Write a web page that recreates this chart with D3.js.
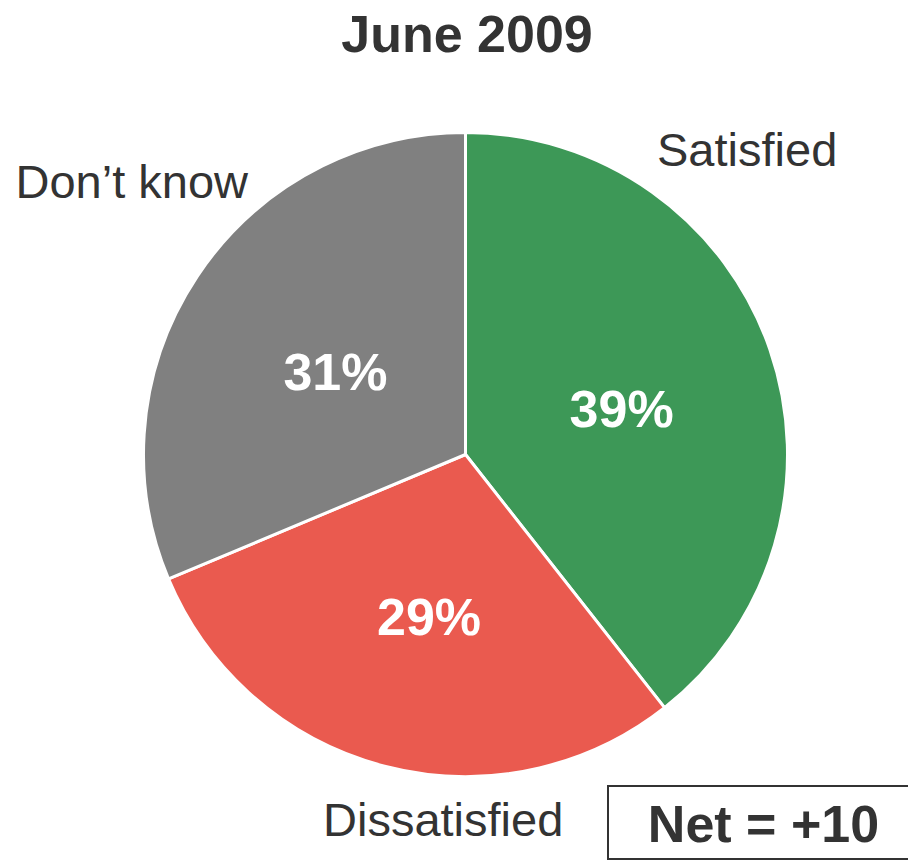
<!DOCTYPE html>
<html>
<head>
<meta charset="utf-8">
<script src="https://cdn.jsdelivr.net/npm/d3@7"></script>
<style>
  html, body { margin: 0; padding: 0; background: #fff; }
  svg { display: block; }
  text { font-family: "Liberation Sans", Arial, Helvetica, sans-serif; fill: #333333; }
</style>
</head>
<body>
<div id="chart"></div>
<script>
const title = "June 2009";
const categories = ["Satisfied", "Dissatisfied", "Don\u2019t know"];
const values = [39, 29, 31];
const colors = ["#3d9857", "#ea5a4f", "#808080"];
const netLabel = "Net = +10";

const W = 908, H = 861;
const cx = 465.5, cy = 454.5, r = 322;

const svg = d3.select("#chart").append("svg")
  .attr("width", W).attr("height", H);

svg.append("text")
  .attr("x", 467).attr("y", 52)
  .attr("text-anchor", "middle")
  .style("font-size", "52px").style("font-weight", "bold")
  .text(title);

const data = categories.map((c, i) => ({ cat: c, value: values[i], color: colors[i] }));
const pie = d3.pie().sort(null).value(d => d.value);
const arcs = pie(data);
const arc = d3.arc().innerRadius(0).outerRadius(r);
const labelArc = d3.arc().innerRadius(r * 0.5).outerRadius(r * 0.5);

const g = svg.append("g").attr("transform", `translate(${cx},${cy})`);

g.selectAll("path").data(arcs).enter().append("path")
  .attr("d", arc)
  .attr("fill", d => d.data.color)
  .attr("stroke", "#ffffff")
  .attr("stroke-width", 3)
  .attr("stroke-linejoin", "round");

g.selectAll("text.pct").data(arcs).enter().append("text")
  .attr("class", "pct")
  .attr("transform", d => {
    const [x, y] = labelArc.centroid(d);
    return `translate(${x + 4},${y + 6})`;
  })
  .attr("text-anchor", "middle")
  .attr("dy", "0.36em")
  .style("font-size", "52px").style("font-weight", "bold")
  .style("fill", "#ffffff")
  .text(d => d.data.value + "%");

// outer category labels, placed relative to the pie geometry
const outerPos = {
  "Satisfied":    { dx: 191.5, dy: -288.5 },
  "Dissatisfied": { dx: -142.5, dy: 381 },
  "Don\u2019t know": { dx: -450, dy: -257 }
};
g.selectAll("text.cat").data(arcs).enter().append("text")
  .attr("class", "cat")
  .attr("x", d => outerPos[d.data.cat].dx)
  .attr("y", d => outerPos[d.data.cat].dy)
  .attr("text-anchor", "start")
  .style("font-size", "47px")
  .text(d => d.data.cat);

// Net box
const box = svg.append("g");
box.append("rect")
  .attr("x", 608).attr("y", 786)
  .attr("width", 311).attr("height", 73)
  .attr("fill", "#ffffff")
  .attr("stroke", "#333333")
  .attr("stroke-width", 2);
box.append("text")
  .attr("x", 763.5).attr("y", 842)
  .attr("text-anchor", "middle")
  .style("font-size", "52px").style("font-weight", "bold")
  .text(netLabel);
</script>
</body>
</html>
